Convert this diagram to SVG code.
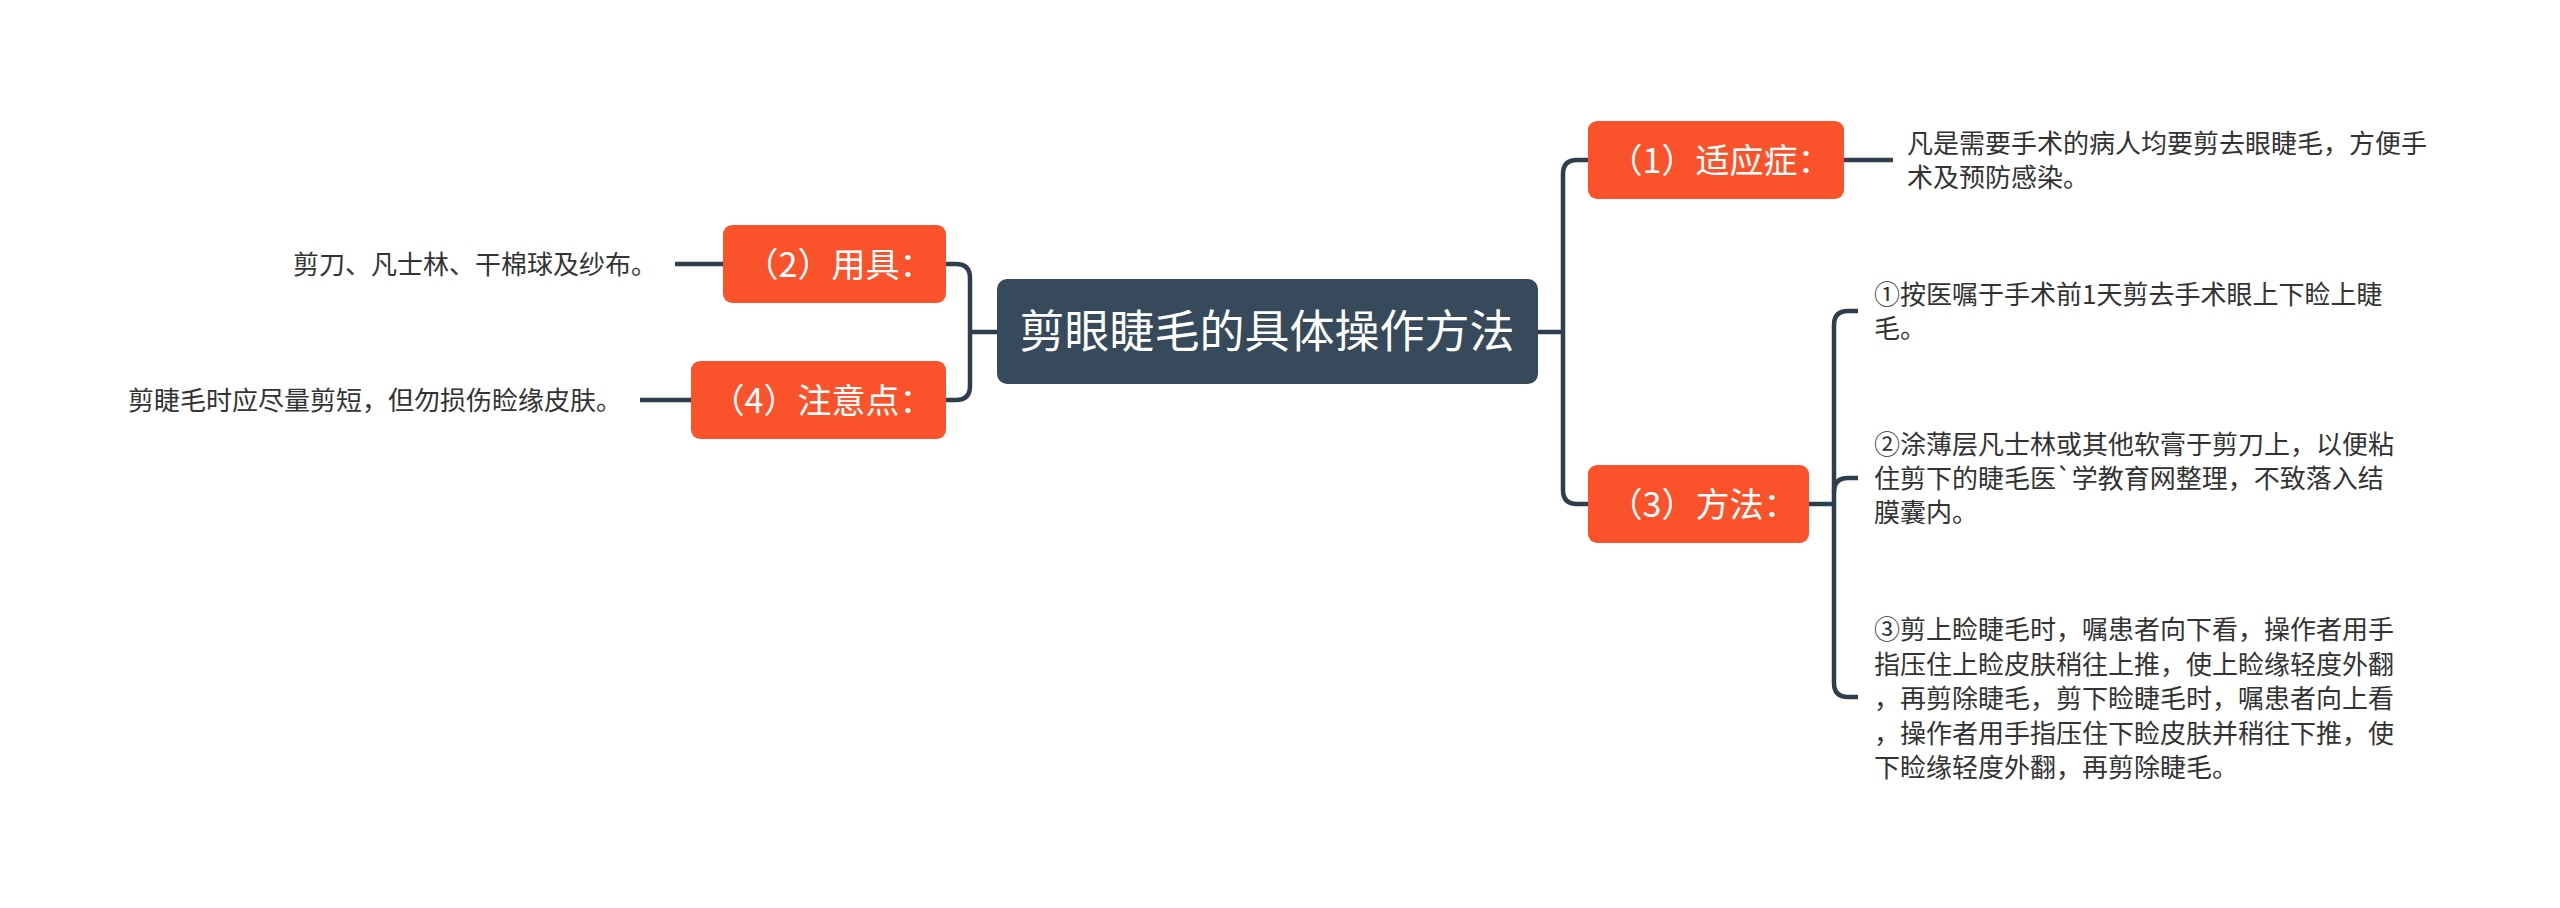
<svg xmlns="http://www.w3.org/2000/svg" width="2560" height="908" viewBox="0 0 2560 908">
<style>
.bg{fill:#ffffff}
.central{fill:#374a5b}
.sub{fill:#fa532c}
.ct{font-family:"Noto Sans CJK SC","Noto Sans",sans-serif;font-size:45px;fill:#ffffff;text-anchor:middle}
.st{font-family:"Noto Sans CJK SC","Noto Sans",sans-serif;font-size:34px;fill:#ffffff;text-anchor:middle}
.lt{font-family:"Noto Sans CJK SC","Noto Sans",sans-serif;font-size:26px;fill:#333333}
.ltr{font-family:"Noto Sans CJK SC","Noto Sans",sans-serif;font-size:26px;fill:#333333;text-anchor:end}
.conn{fill:none;stroke:#2e3e4e;stroke-width:4.5;stroke-linecap:butt}
</style>
<rect class="bg" x="0" y="0" width="2560" height="908"/>
<g id="connectors">
<path class="conn" d="M997,332 H970"/>
<path class="conn" d="M946,264 H956 Q970,264 970,278 V386 Q970,400 956,400 H946"/>
<path class="conn" d="M723,264 H675"/>
<path class="conn" d="M691,400 H640"/>
<path class="conn" d="M1538,332 H1563"/>
<path class="conn" d="M1588,160 H1577 Q1563,160 1563,174 V490 Q1563,504 1577,504 H1588"/>
<path class="conn" d="M1844,160 H1893"/>
<path class="conn" d="M1809,504 H1834"/>
<path class="conn" d="M1858,311 H1848 Q1834,311 1834,325 V683 Q1834,697 1848,697 H1858"/>
<path class="conn" d="M1834,492 Q1834,478 1848,478 H1858"/>
</g>
<g id="central">
<rect class="central" x="997" y="279" width="541" height="105" rx="10"/>
<text class="ct" x="1267" y="348">剪眼睫毛的具体操作方法</text>
</g>
<g id="node1">
<rect class="sub" x="1588" y="121" width="256" height="78" rx="9"/>
<text class="st" x="1720" y="173">（1）适应症：</text>
</g>
<g id="node2">
<rect class="sub" x="723" y="225" width="223" height="78" rx="9"/>
<text class="st" x="839" y="277">（2）用具：</text>
</g>
<g id="node3">
<rect class="sub" x="1588" y="465" width="221" height="78" rx="9"/>
<text class="st" x="1703" y="517">（3）方法：</text>
</g>
<g id="node4">
<rect class="sub" x="691" y="361" width="255" height="78" rx="9"/>
<text class="st" x="822" y="413">（4）注意点：</text>
</g>
<g id="leaf1">
<text class="lt" x="1907" y="153">凡是需要手术的病人均要剪去眼睫毛，方便手</text>
<text class="lt" x="1907" y="187">术及预防感染。</text>
</g>
<g id="leaf2">
<text class="ltr" x="657" y="274">剪刀、凡士林、干棉球及纱布。</text>
</g>
<g id="leaf4">
<text class="ltr" x="622" y="410">剪睫毛时应尽量剪短，但勿损伤睑缘皮肤。</text>
</g>
<g id="leaf3a">
<text class="lt" x="1874" y="304">①按医嘱于手术前1天剪去手术眼上下睑上睫</text>
<text class="lt" x="1874" y="338">毛。</text>
</g>
<g id="leaf3b">
<text class="lt" x="1874" y="454">②涂薄层凡士林或其他软膏于剪刀上，以便粘</text>
<text class="lt" x="1874" y="488">住剪下的睫毛医`学教育网整理，不致落入结</text>
<text class="lt" x="1874" y="522">膜囊内。</text>
</g>
<g id="leaf3c">
<text class="lt" x="1874" y="639">③剪上睑睫毛时，嘱患者向下看，操作者用手</text>
<text class="lt" x="1874" y="673.5">指压住上睑皮肤稍往上推，使上睑缘轻度外翻</text>
<text class="lt" x="1874" y="708">，再剪除睫毛，剪下睑睫毛时，嘱患者向上看</text>
<text class="lt" x="1874" y="742.5">，操作者用手指压住下睑皮肤并稍往下推，使</text>
<text class="lt" x="1874" y="777">下睑缘轻度外翻，再剪除睫毛。</text>
</g>
</svg>
